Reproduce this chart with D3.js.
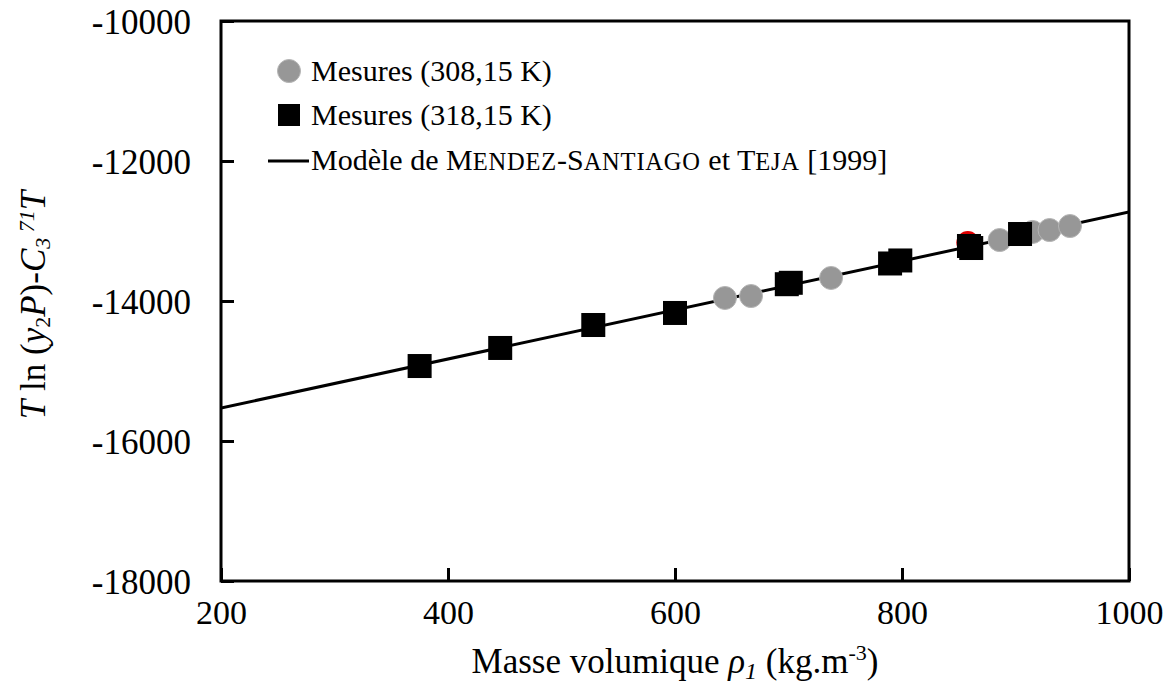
<!DOCTYPE html>
<html><head><meta charset="utf-8">
<script src="https://cdn.jsdelivr.net/npm/d3@7"></script>
<style>
html,body{margin:0;padding:0;background:#fff;}
text{font-family:"Liberation Serif","Times New Roman",serif;fill:#000;}
</style></head>
<body>
<svg id="chart" width="1165" height="694"></svg>
<script>
// ---- data ----
const xTicks = [200, 400, 600, 800, 1000];
const yTicks = [-18000, -16000, -14000, -12000, -10000];

const rho308 = [644, 667, 737.5, 886, 915, 930, 948];
const val308 = [-13957, -13929, -13671, -13129, -13014, -12986, -12929];

const rhoRed = [858];
const valRed = [-13165];

const rho318 = [375, 446, 528, 600, 698.5, 702, 789.5, 798.5, 859, 861, 904];
const val318 = [-14929, -14671, -14343, -14171, -13760, -13740, -13464, -13421, -13214, -13243, -13043];

const modelRho = [200, 1000];
const modelVal = [-15529, -12729];

const legendLabels = ["Mesures (308,15 K)", "Mesures (318,15 K)"];

// ---- layout ----
const svg = d3.select("#chart");
const L = 221, R = 1129, T = 21, B = 581;
const x = d3.scaleLinear().domain([200, 1000]).range([L, R]);
const y = d3.scaleLinear().domain([-18000, -10000]).range([B, T]);

svg.append("defs").append("clipPath").attr("id","clip")
  .append("rect").attr("x",L).attr("y",T).attr("width",R-L).attr("height",B-T);

// model line
svg.append("path")
  .datum(modelRho.map((r,i)=>[r, modelVal[i]]))
  .attr("clip-path","url(#clip)")
  .attr("fill","none").attr("stroke","#000").attr("stroke-width",3)
  .attr("d", d3.line().x(d=>x(d[0])).y(d=>y(d[1])));

// circles 308 K
const cg = svg.append("g");
rho308.forEach((r,i)=>{
  cg.append("circle").attr("cx",x(r)).attr("cy",y(val308[i])).attr("r",11.5)
    .attr("fill","#979797").attr("stroke","#b5b5b5").attr("stroke-width",1);
});
rhoRed.forEach((r,i)=>{
  cg.append("circle").attr("cx",x(r)).attr("cy",y(valRed[i])).attr("r",11.5)
    .attr("fill","#e00000");
});
// squares 318 K
const S = 24;
rho318.forEach((r,i)=>{
  svg.append("rect").attr("x",x(r)-S/2).attr("y",y(val318[i])-S/2)
    .attr("width",S).attr("height",S).attr("fill","#000");
});

// frame
svg.append("rect").attr("x",L).attr("y",T).attr("width",R-L).attr("height",B-T)
  .attr("fill","none").attr("stroke","#000").attr("stroke-width",3);

// axes (ticks inside)
const fmt = d => String(d);
const xAxis = svg.append("g").attr("transform",`translate(0,${B})`)
  .call(d3.axisBottom(x).tickValues(xTicks).tickSizeInner(-13).tickSizeOuter(0).tickFormat(fmt));
xAxis.select(".domain").remove();
xAxis.selectAll("line").attr("stroke","#000").attr("stroke-width",3);
xAxis.selectAll("text").attr("font-size",34).attr("font-family","Liberation Serif").attr("dy","0.71em")
  .attr("y",19);

const yAxis = svg.append("g").attr("transform",`translate(${L},0)`)
  .call(d3.axisLeft(y).tickValues(yTicks).tickSizeInner(-13).tickSizeOuter(0).tickFormat(fmt));
yAxis.select(".domain").remove();
yAxis.selectAll("line").attr("stroke","#000").attr("stroke-width",3);
yAxis.selectAll("text").attr("font-size",35).attr("font-family","Liberation Serif")
  .attr("x",-30).attr("dy","0.35em");

// x title
const xt = svg.append("text").attr("x",675).attr("y",673).attr("text-anchor","middle").attr("font-size",35);
xt.append("tspan").text("Masse volumique ");
xt.append("tspan").attr("font-style","italic").text("ρ");
xt.append("tspan").attr("font-style","italic").attr("font-size",24).attr("dy",6).text("1");
xt.append("tspan").attr("dy",-6).text(" (kg.m");
xt.append("tspan").attr("font-size",22).attr("dy",-13).text("-3");
xt.append("tspan").attr("dy",13).text(")");

// y title
const yt = svg.append("text").attr("transform","translate(45,305) rotate(-90)")
  .attr("text-anchor","middle").attr("font-size",35);
yt.append("tspan").attr("font-style","italic").text("T");
yt.append("tspan").text(" ln (");
yt.append("tspan").attr("font-style","italic").text("y");
yt.append("tspan").attr("font-size",22).attr("dy",5).text("2");
yt.append("tspan").attr("font-style","italic").attr("dy",-5).text("P");
yt.append("tspan").text(")-");
yt.append("tspan").attr("font-style","italic").text("C");
yt.append("tspan").attr("font-style","italic").attr("font-size",22).attr("dy",5).text("3");
yt.append("tspan").attr("font-style","italic").attr("font-size",22).attr("dy",-16).text(" 71");
yt.append("tspan").attr("font-style","italic").attr("dy",11).text("T");

// legend
const lg = svg.append("g");
const lx = 289, tx = 311, fs = 30;
lg.append("circle").attr("cx",lx).attr("cy",71).attr("r",11.5).attr("fill","#979797").attr("stroke","#b5b5b5");
lg.append("text").attr("x",tx).attr("y",81).attr("font-size",fs).text(legendLabels[0]);
lg.append("rect").attr("x",lx-11).attr("y",104).attr("width",22).attr("height",22).attr("fill","#000");
lg.append("text").attr("x",tx).attr("y",125).attr("font-size",fs).text(legendLabels[1]);
lg.append("line").attr("x1",268).attr("x2",309).attr("y1",161).attr("y2",161).attr("stroke","#000").attr("stroke-width",3);
const t3 = lg.append("text").attr("x",tx).attr("y",170).attr("font-size",fs);
const sc = 24.5;
t3.append("tspan").text("Modèle de M");
t3.append("tspan").attr("font-size",sc).attr("letter-spacing",0.8).text("ENDEZ");
t3.append("tspan").text("-S");
t3.append("tspan").attr("font-size",sc).attr("letter-spacing",0.8).text("ANTIAGO");
t3.append("tspan").text(" et T");
t3.append("tspan").attr("font-size",sc).attr("letter-spacing",0.8).text("EJA");
t3.append("tspan").text(" [1999]");
</script>
</body></html>
